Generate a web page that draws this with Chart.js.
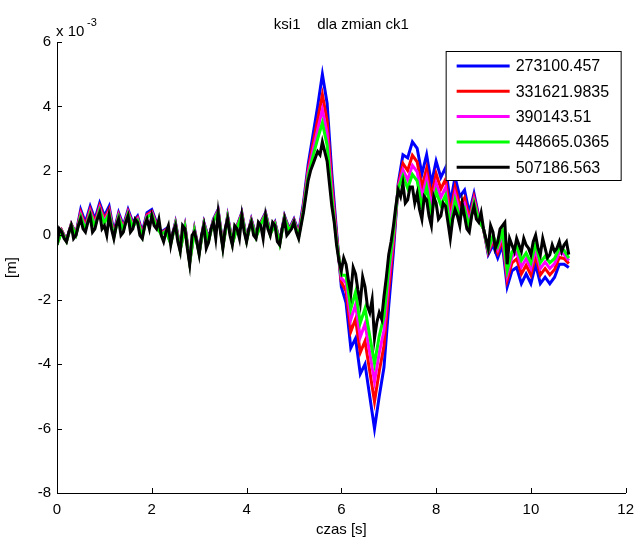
<!DOCTYPE html>
<html>
<head>
<meta charset="utf-8">
<script src="https://cdn.jsdelivr.net/npm/chart.js@4"></script>
<style>
  body { margin: 0; background: #fff; }
  #box { width: 642px; height: 541px; }
</style>
</head>
<body>
<div id="box"><canvas id="myChart" width="642" height="541"></canvas></div>
<script>
// time [s], coarse grid for the four lower-ck1 runs
const time = [0.0,0.1,0.2,0.3,0.4,0.5,0.6,0.7,0.8,0.9,
  1.0,1.1,1.2,1.3,1.4,1.5,1.6,1.7,1.8,1.9,
  2.0,2.1,2.2,2.3,2.4,2.5,2.6,2.7,2.8,2.9,
  3.0,3.1,3.2,3.3,3.4,3.5,3.6,3.7,3.8,3.9,
  4.0,4.1,4.2,4.3,4.4,4.5,4.6,4.7,4.8,4.9,
  5.0,5.1,5.2,5.3,5.4,5.5,5.6,5.7,5.8,5.9,
  6.0,6.1,6.2,6.3,6.4,6.5,6.6,6.7,6.8,6.9,
  7.0,7.1,7.2,7.3,7.4,7.5,7.6,7.7,7.8,7.9,
  8.0,8.1,8.2,8.3,8.4,8.5,8.6,8.7,8.8,8.9,
  9.0,9.1,9.2,9.3,9.4,9.5,9.6,9.7,9.8,9.9,
  10.0,10.1,10.2,10.3,10.4,10.5,10.6,10.7,10.8]

// finer grid for the top (black) run
const timeFine = [0.00,0.05,0.10,0.15,0.20,0.25,0.30,0.35,0.40,0.45,0.50,0.55,0.60,0.65,0.70,0.75,0.80,0.85,0.90,0.95,
  1.00,1.05,1.10,1.15,1.20,1.25,1.30,1.35,1.40,1.45,1.50,1.55,1.60,1.65,1.70,1.75,1.80,1.85,1.90,1.95,
  2.00,2.05,2.10,2.15,2.20,2.25,2.30,2.35,2.40,2.45,2.50,2.55,2.60,2.65,2.70,2.75,2.80,2.85,2.90,2.95,
  3.00,3.05,3.10,3.15,3.20,3.25,3.30,3.35,3.40,3.45,3.50,3.55,3.60,3.65,3.70,3.75,3.80,3.85,3.90,3.95,
  4.00,4.05,4.10,4.15,4.20,4.25,4.30,4.35,4.40,4.45,4.50,4.55,4.60,4.65,4.70,4.75,4.80,4.85,4.90,4.95,
  5.00,5.05,5.10,5.15,5.20,5.25,5.30,5.35,5.40,5.45,5.50,5.55,5.60,5.65,5.70,5.75,5.80,5.85,5.90,5.95,
  6.00,6.05,6.10,6.15,6.20,6.25,6.30,6.35,6.40,6.45,6.50,6.55,6.60,6.65,6.70,6.75,6.80,6.85,6.90,6.95,
  7.00,7.05,7.10,7.15,7.20,7.25,7.30,7.35,7.40,7.45,7.50,7.55,7.60,7.65,7.70,7.75,7.80,7.85,7.90,7.95,
  8.00,8.05,8.10,8.15,8.20,8.25,8.30,8.35,8.40,8.45,8.50,8.55,8.60,8.65,8.70,8.75,8.80,8.85,8.90,8.95,
  9.00,9.05,9.10,9.15,9.20,9.25,9.30,9.35,9.40,9.45,9.50,9.55,9.60,9.65,9.70,9.75,9.80,9.85,9.90,9.95,
  10.00,10.05,10.10,10.15,10.20,10.25,10.30,10.35,10.40,10.45,10.50,10.55,10.60,10.65,10.70,10.75,10.80]

// ksi1 values, in units of 1e-3 m
const ck1_273100 = [-0.25,0.15,-0.15,0.35,0.05,0.8,0.4,0.9,0.5,1.0,
  0.6,0.9,0.1,0.7,0.3,0.8,0.4,0.6,0.1,0.7,
  0.8,0.4,0.1,0.2,-0.2,0.4,-0.4,0.3,-0.8,0.2,
  -0.5,0.4,-0.1,0.5,0.8,-0.3,0.6,-0.2,0.3,0.7,
  -0.1,0.5,0.0,0.4,0.7,0.1,0.4,-0.2,0.6,0.2,
  0.5,0.1,1.0,2.2,3.1,4.0,5.0,4.1,1.9,0.1,
  -1.6,-2.1,-3.5,-3.2,-4.3,-4.0,-5.0,-6.0,-5.0,-4.1,
  -2.2,-0.5,1.6,2.5,2.4,2.9,2.7,1.9,2.5,1.6,
  2.3,1.8,2.1,1.0,1.8,1.2,1.4,0.7,1.3,0.6,
  0.2,-0.6,-0.3,-0.7,-0.3,-1.6,-1.1,-1.0,-1.5,-1.2,
  -1.5,-0.9,-1.5,-1.3,-1.5,-1.3,-0.9,-0.9,-1.0]

const ck1_331621 = [-0.27,0.14,-0.17,0.34,0.04,0.71,0.31,0.81,0.41,0.91,
  0.51,0.81,0.04,0.64,0.24,0.74,0.34,0.54,0.04,0.64,
  0.74,0.34,0.07,0.17,-0.23,0.37,-0.43,0.27,-0.83,0.17,
  -0.53,0.37,-0.13,0.47,0.77,-0.33,0.57,-0.23,0.27,0.67,
  -0.13,0.47,-0.03,0.37,0.67,0.07,0.37,-0.23,0.57,0.17,
  0.47,0.04,0.91,2.05,2.83,3.58,4.37,3.56,1.6,-0.02,
  -1.45,-1.74,-2.99,-2.6,-3.64,-3.28,-4.22,-5.16,-4.22,-3.44,
  -1.72,-0.26,1.54,2.23,2.01,2.48,2.28,1.48,2.08,1.21,
  1.91,1.44,1.74,0.67,1.5,0.93,1.16,0.52,1.18,0.54,
  0.2,-0.54,-0.18,-0.55,-0.12,-1.39,-0.86,-0.73,-1.2,-0.93,
  -1.23,-0.63,-1.23,-1.03,-1.23,-1.06,-0.69,-0.72,-0.88]

const ck1_390143 = [-0.28,0.12,-0.18,0.32,0.02,0.64,0.24,0.74,0.34,0.84,
  0.44,0.74,0.0,0.6,0.2,0.7,0.3,0.5,0.0,0.6,
  0.7,0.3,0.05,0.15,-0.25,0.35,-0.45,0.25,-0.85,0.15,
  -0.55,0.35,-0.15,0.45,0.75,-0.35,0.55,-0.25,0.25,0.65,
  -0.15,0.45,-0.05,0.35,0.65,0.05,0.35,-0.25,0.55,0.15,
  0.45,0.0,0.84,1.94,2.63,3.27,3.91,3.16,1.38,-0.11,
  -1.34,-1.48,-2.62,-2.16,-3.16,-2.75,-3.65,-4.54,-3.65,-2.96,
  -1.37,-0.08,1.5,2.03,1.72,2.17,1.97,1.17,1.77,0.92,
  1.62,1.18,1.48,0.43,1.28,0.73,0.98,0.39,1.09,0.5,
  0.2,-0.5,-0.09,-0.44,0.01,-1.24,-0.68,-0.53,-0.98,-0.73,
  -1.03,-0.43,-1.03,-0.83,-1.03,-0.88,-0.54,-0.59,-0.79]

const ck1_448665 = [-0.29,0.11,-0.19,0.31,0.01,0.58,0.18,0.68,0.28,0.78,
  0.38,0.68,-0.04,0.56,0.16,0.66,0.26,0.46,-0.04,0.56,
  0.66,0.26,0.03,0.13,-0.27,0.33,-0.47,0.23,-0.87,0.13,
  -0.57,0.33,-0.17,0.43,0.73,-0.37,0.53,-0.27,0.23,0.63,
  -0.17,0.43,-0.07,0.33,0.63,0.03,0.33,-0.27,0.53,0.13,
  0.43,-0.04,0.78,1.84,2.45,2.99,3.49,2.8,1.18,-0.19,
  -1.24,-1.24,-2.28,-1.76,-2.72,-2.27,-3.13,-3.98,-3.13,-2.52,
  -1.05,0.08,1.46,1.85,1.46,1.89,1.69,0.89,1.49,0.66,
  1.36,0.94,1.24,0.21,1.08,0.55,0.82,0.27,1.01,0.46,
  0.2,-0.46,-0.01,-0.34,0.13,-1.1,-0.52,-0.35,-0.78,-0.55,
  -0.85,-0.25,-0.85,-0.65,-0.85,-0.72,-0.4,-0.47,-0.71]

const ck1_507186 = [-0.3,0.2,0.1,-0.1,-0.2,0.1,0.3,-0.1,0.0,0.3,0.5,0.2,0.1,0.4,0.6,0.1,0.2,0.5,0.7,0.2,
  0.3,0.0,0.6,0.2,-0.1,0.3,0.5,0.0,0.1,0.4,0.6,0.1,0.2,0.5,0.4,0.0,-0.1,0.3,0.5,0.2,
  0.6,0.3,0.2,0.5,0.0,-0.2,0.1,0.3,-0.3,0.1,0.3,-0.2,-0.5,0.3,0.2,-0.4,-0.9,0.0,0.1,-0.2,
  -0.6,0.0,0.3,-0.4,-0.2,0.2,0.4,-0.1,0.7,0.1,-0.4,0.2,0.5,0.0,-0.3,0.3,0.2,-0.1,0.6,0.1,
  -0.2,0.2,0.4,0.0,-0.1,0.4,0.3,-0.1,0.6,0.2,0.0,0.4,0.3,-0.2,-0.3,0.2,0.5,0.0,0.1,0.2,
  0.4,0.1,-0.1,0.3,0.7,1.2,1.7,2.0,2.2,2.4,2.6,2.5,2.9,2.6,2.3,1.6,0.9,0.4,-0.3,-0.8,
  -1.1,-0.7,-0.9,-1.4,-1.8,-1.0,-1.2,-1.7,-2.1,-1.3,-1.6,-2.2,-2.4,-2.0,-3.2,-2.7,-2.4,-2.6,-1.9,-1.3,
  -0.6,-0.2,0.3,0.9,1.4,1.2,1.6,1.0,1.1,1.5,1.5,1.0,1.3,0.8,0.5,1.2,1.1,0.6,0.3,1.2,
  1.0,0.5,0.6,1.0,0.9,0.4,-0.1,0.5,0.8,0.6,0.3,1.0,0.6,0.2,0.1,0.6,0.9,0.5,0.4,0.7,
  0.2,-0.1,-0.4,0.3,0.1,-0.4,-0.2,0.2,0.3,0.4,-0.9,-0.1,-0.3,-0.5,-0.1,-0.3,-0.5,-0.1,-0.3,-0.4,
  -0.6,-0.2,0.0,-0.4,-0.6,-0.1,-0.4,-0.7,-0.6,-0.3,-0.5,-0.4,-0.2,-0.5,-0.3,-0.2,-0.6]

const seriesLabels = ['273100.457', '331621.9835', '390143.51', '448665.0365', '507186.563']
const seriesValues = [ck1_273100, ck1_331621, ck1_390143, ck1_448665, ck1_507186]
const seriesTimes = [time, time, time, time, timeFine]
const seriesColors = ['#0000ff', '#ff0000', '#ff00ff', '#00ff00', '#000000']

const xTicks = [0, 2, 4, 6, 8, 10, 12]
const yTicks = [-8, -6, -4, -2, 0, 2, 4, 6]

const FONT = '"Liberation Sans", Arial, sans-serif'

function toPoints(vals, ts) {
  return vals.map((v, i) => ({ x: ts[i], y: v }))
}

// inward ticks, title, axis labels, exponent and legend box
const matlabDecor = {
  id: 'matlabDecor',
  afterDraw(chart) {
    const ctx = chart.ctx
    const a = chart.chartArea
    const xs = chart.scales.x, ys = chart.scales.y
    ctx.save()
    ctx.strokeStyle = '#000'
    ctx.lineWidth = 1
    ctx.beginPath()
    xTicks.forEach(t => {
      const px = Math.round(xs.getPixelForValue(t)) + 0.5
      ctx.moveTo(px, a.bottom); ctx.lineTo(px, a.bottom - 5)
    })
    yTicks.forEach(t => {
      const py = Math.round(ys.getPixelForValue(t)) + 0.5
      ctx.moveTo(a.left, py); ctx.lineTo(a.left + 5, py)
    })
    ctx.stroke()

    ctx.fillStyle = '#000'
    ctx.font = '15px ' + FONT
    ctx.textAlign = 'center'
    ctx.textBaseline = 'middle'
    ctx.fillText('ksi1    dla zmian ck1', (a.left + a.right) / 2, 25)
    ctx.fillText('czas [s]', (a.left + a.right) / 2, 530)
    ctx.save()
    ctx.translate(12, (a.top + a.bottom) / 2)
    ctx.rotate(-Math.PI / 2)
    ctx.fillText('[m]', 0, 0)
    ctx.restore()

    ctx.textAlign = 'left'
    ctx.fillText('x 10', a.left - 1, 32)
    ctx.font = '11px ' + FONT
    ctx.fillText('-3', a.left + 30, 23)

    // legend
    const bx = a.right - 180, by = a.top + 9, bw = 175, bh = 129
    ctx.fillStyle = '#fff'
    ctx.fillRect(bx, by, bw, bh)
    ctx.strokeStyle = '#000'
    ctx.strokeRect(bx + 0.5, by + 0.5, bw, bh)
    ctx.font = '16px ' + FONT
    ctx.textBaseline = 'middle'
    chart.data.datasets.forEach((ds, i) => {
      const yy = by + 15 + i * 25.3
      ctx.strokeStyle = ds.borderColor
      ctx.lineWidth = 3
      ctx.beginPath()
      ctx.moveTo(bx + 11, yy); ctx.lineTo(bx + 64, yy)
      ctx.stroke()
      ctx.fillStyle = '#000'
      ctx.fillText(ds.label, bx + 70, yy + 1)
    })
    ctx.restore()
  }
}

const ctx = document.getElementById('myChart').getContext('2d')
const chart = new Chart(ctx, {
  type: 'line',
  data: {
    datasets: seriesValues.map((vals, i) => ({
      label: seriesLabels[i],
      data: toPoints(vals, seriesTimes[i]),
      borderColor: seriesColors[i],
      backgroundColor: seriesColors[i],
      borderWidth: 3,
      pointRadius: 0,
      tension: 0,
      fill: false,
      order: seriesValues.length - i
    }))
  },
  options: {
    responsive: false,
    animation: false,
    layout: { padding: { left: 0, right: 13, top: 42, bottom: 0 } },
    plugins: { legend: { display: false }, tooltip: { enabled: false } },
    scales: {
      x: {
        type: 'linear', min: 0, max: 12,
        afterFit: s => { s.height = 48 },
        afterBuildTicks: s => { s.ticks = xTicks.map(v => ({ value: v })) },
        grid: { display: false, drawTicks: false },
        border: { display: true, color: '#000', width: 1 },
        ticks: { color: '#000', padding: 8, font: { family: FONT, size: 15 }, maxRotation: 0 }
      },
      y: {
        type: 'linear', min: -8, max: 6,
        afterFit: s => { s.width = 57 },
        afterBuildTicks: s => { s.ticks = yTicks.map(v => ({ value: v })) },
        grid: { display: false, drawTicks: false },
        border: { display: true, color: '#000', width: 1 },
        ticks: { color: '#000', padding: 6, font: { family: FONT, size: 15 } }
      }
    }
  },
  plugins: [matlabDecor]
})
</script>
</body>
</html>
